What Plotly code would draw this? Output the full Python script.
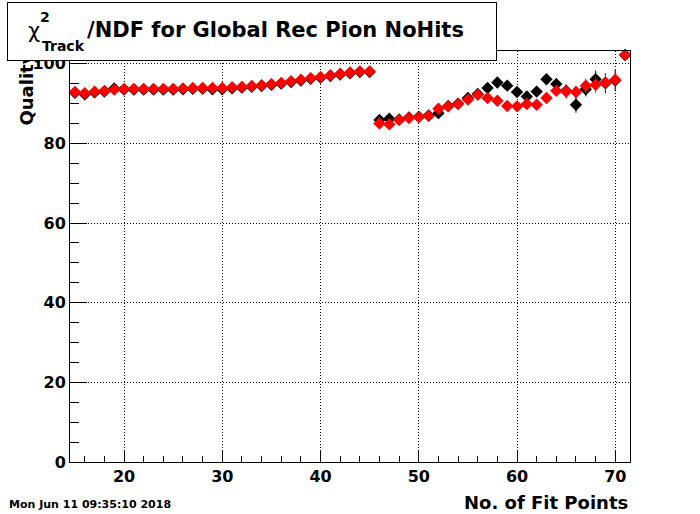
import plotly.graph_objects as go

# ---- data ----
fit_points = list(range(15, 72))

red_vals = [92.9, 92.6, 93.0, 93.2, 93.5, 93.7, 93.7, 93.7, 93.7, 93.7,
            93.7, 93.8, 93.9, 93.9, 93.9, 93.9, 94.1, 94.2, 94.4, 94.6,
            94.9, 95.2, 95.6, 96.0, 96.4, 96.7, 97.1, 97.5, 97.8, 98.1,
            98.1,
            85.0, 84.8, 85.9, 86.4, 86.6, 86.9, 88.7, 89.3, 89.9, 91.0,
            92.2, 91.4, 90.7, 89.4, 89.3, 89.9, 89.7, 91.4, 93.2, 93.0,
            92.9, 94.5, 94.7, 95.3, 96.0, 102.2]
red_err = [0.2] * 31 + [0.4, 0.4, 0.4, 0.4, 0.5, 0.5, 0.5, 0.5, 0.6, 0.6,
                        0.7, 0.7, 0.8, 0.8, 0.9, 1.0, 1.0, 1.1, 1.2, 1.8,
                        1.5, 1.8, 2.0, 2.3, 2.7, 0.5]

black_vals = [92.7, 92.3, 92.8, 93.0, 93.8, 93.5, 93.5, 93.5, 93.5, 93.5,
              93.5, 93.6, 93.7, 93.7, 93.6, 93.6, 93.8, 94.0, 94.2, 94.4,
              94.7, 95.0, 95.4, 95.8, 96.2, 96.5, 96.9, 97.3, 97.6, 97.9,
              97.9,
              85.9, 86.2, 86.0, 86.5, 86.7, 87.0, 87.6, 89.4, 90.0, 91.4,
              92.4, 93.9, 95.3, 94.5, 92.9, 91.8, 93.0, 96.1, 94.9, 93.2,
              89.7, 93.6, 96.1, 95.1, 95.8, 102.2]
black_err = [0.2] * 31 + [0.4, 0.4, 0.4, 0.4, 0.5, 0.5, 0.5, 0.5, 0.6, 0.6,
                          0.7, 0.7, 0.8, 0.8, 0.9, 1.2, 1.0, 1.1, 1.5, 1.6,
                          2.0, 1.8, 2.2, 2.5, 2.7, 0.5]

x_ticks = [20, 30, 40, 50, 60, 70]
y_ticks = [0, 20, 40, 60, 80, 100]

title_main = "/NDF for Global Rec Pion NoHits"
x_title = "No. of Fit Points"
y_title = "Quality"
date_text = "Mon Jun 11 09:35:10 2018"

W, H = 700, 514
L, R, T, B = 70, 630, 51, 462


def px(x):
    return (x - L) / (R - L)


def py(y):
    return (B - y) / (B - T)


FONT = "DejaVu Sans"

fig = go.Figure()
for vals, errs, col in [(black_vals, black_err, "black"), (red_vals, red_err, "#ff0000")]:
    fig.add_trace(go.Scatter(
        x=fit_points, y=vals, mode="markers",
        marker=dict(symbol="diamond", size=9.5, color=col, line=dict(width=0)),
        error_y=dict(type="data", array=errs, color=col, thickness=1, width=0),
        cliponaxis=False, showlegend=False,
    ))

axis_common = dict(
    showline=True, linecolor="black", linewidth=1, mirror=True,
    ticks="inside", tickcolor="black", tickwidth=1,
    showgrid=True, gridcolor="black", gridwidth=1, griddash="1px,2px",
    zeroline=False,
    tickfont=dict(family=FONT, size=16, color="black", weight="bold"),
)

fig.update_xaxes(range=[14.5, 71.5], tickvals=x_ticks, ticklen=12,
                 minor=dict(dtick=2, tick0=0, ticklen=6, ticks="inside",
                            tickcolor="black", showgrid=False),
                 **axis_common)
fig.update_yaxes(range=[0, 103.2], tickvals=y_ticks, ticklen=17,
                 minor=dict(dtick=5, tick0=0, ticklen=8.5, ticks="inside",
                            tickcolor="black", showgrid=False),
                 **axis_common)

ann = []
# y-axis title (partly covered by the title box)
ann.append(dict(text=y_title, x=px(26), y=py(128), xref="paper", yref="paper",
                xanchor="center", yanchor="bottom", textangle=-90, showarrow=False,
                font=dict(family=FONT, size=18, color="black", weight="bold")))
# x-axis title
ann.append(dict(text=x_title, x=px(630), y=py(502), xref="paper", yref="paper",
                xanchor="right", yanchor="middle", showarrow=False,
                font=dict(family=FONT, size=18, color="black", weight="bold")))
# date
ann.append(dict(text=date_text, x=px(7), y=py(504), xref="paper", yref="paper",
                xanchor="left", yanchor="middle", showarrow=False,
                font=dict(family=FONT, size=11, color="black", weight="bold")))
# title box
ann.append(dict(text=" ", x=px(7), y=py(2), xref="paper", yref="paper",
                xanchor="left", yanchor="top", showarrow=False,
                width=488, height=57, bgcolor="white", bordercolor="black",
                borderwidth=1, borderpad=0))
# title pieces
ann.append(dict(text="χ", x=px(34), y=py(31), xref="paper", yref="paper",
                xanchor="center", yanchor="middle", showarrow=False,
                font=dict(family=FONT, size=21, color="black")))
ann.append(dict(text="2", x=px(45), y=py(17), xref="paper", yref="paper",
                xanchor="center", yanchor="middle", showarrow=False,
                font=dict(family=FONT, size=14, color="black", weight="bold")))
ann.append(dict(text="Track", x=px(63), y=py(46), xref="paper", yref="paper",
                xanchor="center", yanchor="middle", showarrow=False,
                font=dict(family=FONT, size=14, color="black", weight="bold")))
ann.append(dict(text=title_main, x=px(85), y=py(30), xref="paper", yref="paper",
                xanchor="left", yanchor="middle", showarrow=False,
                font=dict(family=FONT, size=21, color="black", weight="bold")))

fig.update_layout(
    width=W, height=H,
    margin=dict(l=L, r=W - R, t=T, b=H - B, pad=0),
    paper_bgcolor="white", plot_bgcolor="white",
    annotations=ann,
)

fig.write_html("out.html", config={"displayModeBar": False},
               post_script="document.body.style.margin='0px';document.body.style.overflow='hidden';")
